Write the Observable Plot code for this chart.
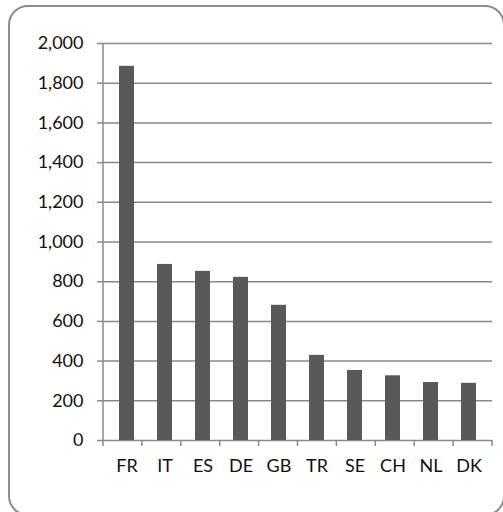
<!DOCTYPE html>
<html>
<head>
<meta charset="utf-8">
<script src="https://cdn.jsdelivr.net/npm/d3@7"></script>
<script src="https://cdn.jsdelivr.net/npm/@observablehq/plot@0.6"></script>
<style>
  html, body { margin: 0; padding: 0; background: #fff; overflow: hidden; }
  #wrap { position: relative; width: 503px; height: 512px; overflow: hidden; }
  #box { position: absolute; left: 8px; top: 5px; width: 497px; height: 511px; box-sizing: border-box;
         border: 2px solid #8c8c8c; border-radius: 20px; }
  #chart { position: absolute; left: 0; top: 0; }
</style>
</head>
<body>
<div id="wrap"><div id="box"></div><div id="chart"></div></div>
<script>
const countries = ["FR", "IT", "ES", "DE", "GB", "TR", "SE", "CH", "NL", "DK"];
const values = [1885, 887, 852, 822, 681, 429, 353, 326, 292, 288];
const yTicks = [0, 200, 400, 600, 800, 1000, 1200, 1400, 1600, 1800, 2000];

const data = countries.map((c, i) => ({country: c, value: values[i]}));
const gridColor = "#888888";

const categoryTicks = (index, scales, vals, dims) => {
  const g = d3.create("svg:g");
  const x0 = dims.marginLeft, x1 = dims.width - dims.marginRight;
  const n = countries.length;
  const yTop = scales.y(yTicks[yTicks.length - 1]);
  const yBase = scales.y(0);
  // vertical axis line
  g.append("line").attr("x1", x0).attr("x2", x0).attr("y1", yTop).attr("y2", yBase + 6)
    .attr("stroke", gridColor).attr("stroke-width", 1.5);
  // category boundary ticks
  for (let i = 1; i <= n; i++) {
    const x = x0 + i * (x1 - x0) / n;
    g.append("line").attr("x1", x).attr("x2", x).attr("y1", yBase).attr("y2", yBase + 6)
      .attr("stroke", gridColor).attr("stroke-width", 1.5);
  }
  return g.node();
};

const chart = Plot.plot({
  width: 503,
  height: 512,
  marginLeft: 103,
  marginRight: 11,
  marginTop: 43,
  marginBottom: 72,
  style: {fontFamily: "Lato, sans-serif", fontSize: "18px", color: "#111", background: "transparent"},
  x: {domain: countries, paddingInner: 0.6, paddingOuter: 0.3, label: null},
  y: {domain: [0, 2000], label: null},
  marks: [
    Plot.ruleY(yTicks, {y: d => d, stroke: gridColor, strokeWidth: 1.5, strokeOpacity: 1}),
    Plot.axisY(yTicks, {tickSize: 6, tickPadding: 14, tickFormat: d3.format(","), stroke: gridColor, strokeWidth: 1.5, strokeOpacity: 1, fill: "#111", label: null}),
    Plot.axisX({tickSize: 0, tickPadding: 19, fill: "#111", label: null}),
    Plot.barY(data, {x: "country", y: "value", fill: "#595959"}),
    categoryTicks
  ]
});
document.getElementById("chart").appendChild(chart);
</script>
</body>
</html>
